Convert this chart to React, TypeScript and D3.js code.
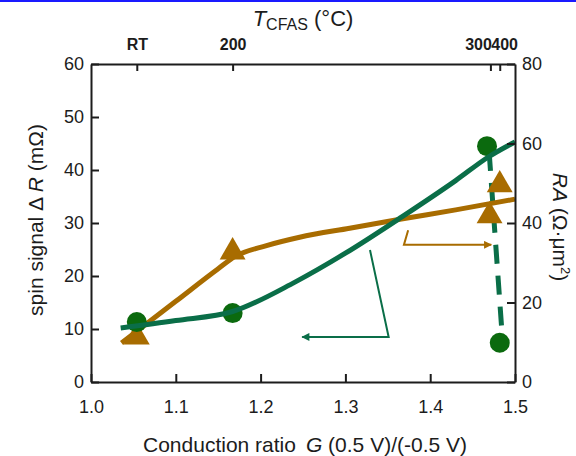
import React, { useEffect, useRef } from 'react';
import * as d3 from 'd3';

// bottom axis: conduction ratio
const xTicks = [1.0, 1.1, 1.2, 1.3, 1.4, 1.5];
const leftTicks = [0, 10, 20, 30, 40, 50, 60];
const rightTicks = [0, 20, 40, 60, 80];

// top axis: annealing temperature of CFAS
const topTickPos = [1.054, 1.167, 1.471, 1.482];
const topTickLabels = ['RT', '200', '300', '400'];

// spin signal (left axis, mOhm)
const circleG = [1.054, 1.167, 1.467, 1.482];
const circleDR = [11.3, 13.0, 44.5, 7.4];

// RA (right axis, Ohm um^2)
const triG = [1.054, 1.167, 1.47, 1.482];
const triRA = [11.3, 32.7, 41.8, 49.6];

// guide curves
const fitDRx = [1.035, 1.1, 1.167, 1.24, 1.3, 1.367, 1.43, 1.469, 1.5];
const fitDRy = [10.2, 11.6, 13.3, 18.8, 24.3, 31.2, 38.0, 42.5, 45.3];
const fitRAx = [1.036, 1.1, 1.15, 1.17, 1.207, 1.246, 1.305, 1.366, 1.43, 1.5];
const fitRAy = [9.8, 20.3, 28.5, 31.6, 34.3, 36.4, 38.7, 41.0, 43.3, 46.0];
const dropDRx = [1.4695, 1.4847];
const dropDRy = [43.4, 9.2];

// arrows pointing to the axes
const greenArrow = [[1.329, 24.9], [1.351, 8.5], [1.249, 8.5]];
const brownArrow = [[1.374, 38.2], [1.369, 34.5], [1.472, 34.5]];

const W = 576;
const H = 456;
const GREEN_LINE = '#0a6e48';
const GREEN_DOT = '#0b6a0e';
const BROWN = '#a86c00';
const AXIS = '#1c1c1c';
const FONT = '"Liberation Sans", Arial, sans-serif';

const App = () => {
    const svgRef = useRef(null);

    useEffect(() => {
        const svg = d3.select(svgRef.current);
        svg.selectAll('*').remove();

        const left = 91, right = 515, top = 64, bottom = 382;

        const x = d3.scaleLinear().domain([1.0, 1.5]).range([left, right]);
        const yL = d3.scaleLinear().domain([0, 60]).range([bottom, top]);
        const yR = d3.scaleLinear().domain([0, 80]).range([bottom, top]);

        svg.append('rect').attr('x', 0).attr('y', 0).attr('width', W).attr('height', 2).attr('fill', '#1a1aff');

        const defs = svg.append('defs');
        const marker = (id, color) => {
            defs.append('marker')
                .attr('id', id)
                .attr('viewBox', '0 0 10 10')
                .attr('refX', 9)
                .attr('refY', 5)
                .attr('markerWidth', 5)
                .attr('markerHeight', 4)
                .attr('markerUnits', 'strokeWidth')
                .attr('orient', 'auto')
                .append('path')
                .attr('d', 'M0,0 L10,5 L0,10 Z')
                .attr('fill', color);
        };
        marker('arrowG', GREEN_LINE);
        marker('arrowB', BROWN);

        // dashed drop of the spin signal at 400 C
        svg.append('path')
            .datum(dropDRx.map((d, i) => [d, dropDRy[i]]))
            .attr('d', d3.line().x(d => x(d[0])).y(d => yL(d[1])))
            .attr('fill', 'none')
            .attr('stroke', GREEN_LINE)
            .attr('stroke-width', 5)
            .attr('stroke-dasharray', '19,12');

        // RA guide
        svg.append('path')
            .datum(fitRAx.map((d, i) => [d, fitRAy[i]]))
            .attr('d', d3.line().x(d => x(d[0])).y(d => yR(d[1])).curve(d3.curveMonotoneX))
            .attr('fill', 'none')
            .attr('stroke', BROWN)
            .attr('stroke-width', 5);

        svg.selectAll('.tri')
            .data(triG.map((d, i) => [d, triRA[i]]))
            .enter()
            .append('path')
            .attr('class', 'tri')
            .attr('transform', d => `translate(${x(d[0])},${yR(d[1])})`)
            .attr('d', d3.symbol().type(d3.symbolTriangle).size(290)())
            .attr('fill', BROWN);

        svg.selectAll('.dot')
            .data(circleG.map((d, i) => [d, circleDR[i]]))
            .enter()
            .append('circle')
            .attr('class', 'dot')
            .attr('cx', d => x(d[0]))
            .attr('cy', d => yL(d[1]))
            .attr('r', 10)
            .attr('fill', GREEN_DOT);

        // spin signal guide
        svg.append('path')
            .datum(fitDRx.map((d, i) => [d, fitDRy[i]]))
            .attr('d', d3.line().x(d => x(d[0])).y(d => yL(d[1])).curve(d3.curveMonotoneX))
            .attr('fill', 'none')
            .attr('stroke', GREEN_LINE)
            .attr('stroke-width', 5);

        svg.append('path')
            .datum(greenArrow)
            .attr('d', d3.line().x(d => x(d[0])).y(d => yL(d[1])))
            .attr('fill', 'none')
            .attr('stroke', GREEN_LINE)
            .attr('stroke-width', 2)
            .attr('marker-end', 'url(#arrowG)');

        svg.append('path')
            .datum(brownArrow)
            .attr('d', d3.line().x(d => x(d[0])).y(d => yR(d[1])))
            .attr('fill', 'none')
            .attr('stroke', BROWN)
            .attr('stroke-width', 2)
            .attr('marker-end', 'url(#arrowB)');

        // axes
        const styleAxis = (g, size) => {
            g.selectAll('path.domain').attr('stroke', AXIS).attr('stroke-width', 2);
            g.selectAll('line').attr('stroke', AXIS).attr('stroke-width', 2);
            g.selectAll('text')
                .attr('fill', AXIS)
                .style('font-family', FONT)
                .style('font-size', `${size}px`);
        };

        const gB = svg.append('g')
            .attr('transform', `translate(0,${bottom})`)
            .call(d3.axisBottom(x).tickValues(xTicks).tickFormat(d3.format('.1f'))
                .tickSize(-8).tickSizeOuter(0).tickPadding(18));
        styleAxis(gB, 18);

        const gL = svg.append('g')
            .attr('transform', `translate(${left},0)`)
            .call(d3.axisLeft(yL).tickValues(leftTicks).tickSize(-8).tickSizeOuter(0).tickPadding(7));
        styleAxis(gL, 18);

        const gR = svg.append('g')
            .attr('transform', `translate(${right},0)`)
            .call(d3.axisRight(yR).tickValues(rightTicks).tickSize(-8).tickSizeOuter(0).tickPadding(7));
        styleAxis(gR, 18);

        const gT = svg.append('g')
            .attr('transform', `translate(0,${top})`)
            .call(d3.axisTop(x).tickValues(topTickPos).tickFormat((d, i) => topTickLabels[i])
                .tickSize(-7).tickSizeOuter(0).tickPadding(14));
        styleAxis(gT, 16);
        gT.selectAll('text')
            .style('font-weight', 'bold')
            .attr('text-anchor', (d, i) => (i === 2 ? 'end' : i === 3 ? 'start' : 'middle'))
            .attr('dx', (d, i) => (i === 2 ? 1 : i === 3 ? -9 : 0));

        // titles
        const title = svg.append('text')
            .attr('x', (left + right) / 2)
            .attr('y', 26)
            .attr('text-anchor', 'middle')
            .style('font-family', FONT)
            .style('font-size', '22px')
            .attr('fill', AXIS);
        title.append('tspan').style('font-style', 'italic').text('T');
        title.append('tspan').attr('dy', 4).style('font-size', '16px').text('CFAS');
        title.append('tspan').attr('dy', -4).text(' (°C)');

        const xl = svg.append('text')
            .attr('x', (left + right) / 2 + 2)
            .attr('y', 452)
            .attr('text-anchor', 'middle')
            .style('font-family', FONT)
            .style('font-size', '21px')
            .attr('fill', AXIS);
        xl.append('tspan').text('Conduction ratio');
        xl.append('tspan').attr('dx', 10).style('font-style', 'italic').text('G');
        xl.append('tspan').text(' (0.5 V)/(-0.5 V)');

        const yl = svg.append('text')
            .attr('transform', 'translate(43,220) rotate(-90)')
            .attr('text-anchor', 'middle')
            .style('font-family', FONT)
            .style('font-size', '21px')
            .attr('fill', AXIS);
        yl.append('tspan').text('spin signal Δ ');
        yl.append('tspan').style('font-style', 'italic').text('R');
        yl.append('tspan').text(' (mΩ)');

        const yr = svg.append('text')
            .attr('transform', 'translate(553,227) rotate(90)')
            .attr('text-anchor', 'middle')
            .style('font-family', FONT)
            .style('font-size', '21px')
            .attr('fill', AXIS);
        yr.append('tspan').style('font-style', 'italic').text('RA');
        yr.append('tspan').text(' (Ω·μm');
        yr.append('tspan').attr('dy', -8).style('font-size', '13px').text('2');
        yr.append('tspan').attr('dy', 8).text(')');
    }, []);

    return (
        <svg
            ref={svgRef}
            width={W}
            height={H}
            style={{ position: 'absolute', left: 0, top: 0, background: '#fff' }}
        />
    );
};

export default App;
